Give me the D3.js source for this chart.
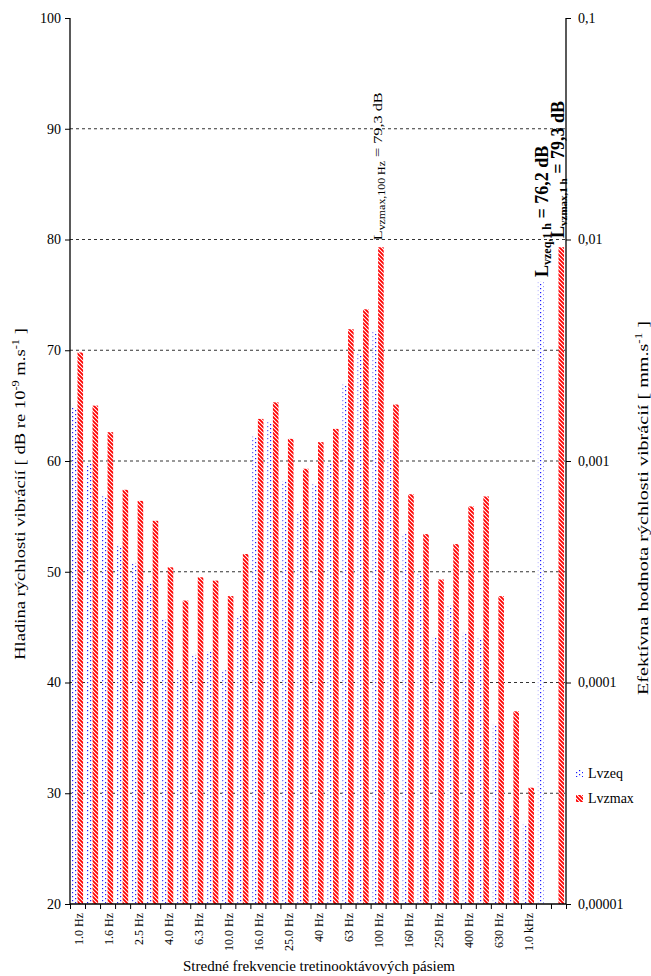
<!DOCTYPE html>
<html>
<head>
<meta charset="utf-8">
<script src="https://cdn.jsdelivr.net/npm/d3@7"></script>
<style>
body { margin: 0; background: #fff; }
text { font-family: "Liberation Serif", "Times New Roman", serif; fill: #000; }
</style>
</head>
<body>
<div id="chart"></div>
<script>
'use strict';

// third-octave bands, then two extra slots for the 1 h totals
var bandLabels = [
    "1.0 Hz","1.25 Hz","1.6 Hz","2.0 Hz","2.5 Hz","3.15 Hz","4.0 Hz","5.0 Hz",
    "6.3 Hz","8.0 Hz","10.0 Hz","12.5 Hz","16.0 Hz","20.0 Hz","25.0 Hz","31.5 Hz",
    "40 Hz","50 Hz","63 Hz","80 Hz","100 Hz","125 Hz","160 Hz","200 Hz",
    "250 Hz","315 Hz","400 Hz","500 Hz","630 Hz","800 Hz","1.0 kHz","",""
];

var lvzeq = [
    64.8, 59.8, 56.8, 52.3, 50.8, 48.9, 45.7, 41.1,
    42.5, 42.8, 41.1, 46.0, 62.2, 63.5, 58.2, 55.4,
    57.9, 59.8, 66.9, 69.7, 71.7, 61.1, 53.4, 49.9,
    44.1, 47.0, 44.5, 44.0, 36.2, 28.0, 27.2, 76.2, null
];

var lvzmax = [
    69.8, 65.0, 62.6, 57.4, 56.4, 54.6, 50.4, 47.4,
    49.5, 49.2, 47.8, 51.6, 63.8, 65.3, 62.0, 59.3,
    61.7, 62.9, 71.9, 73.7, 79.3, 65.1, 57.0, 53.4,
    49.3, 52.5, 55.9, 56.8, 47.8, 37.4, 30.5, null, 79.3
];

var seriesNames = ["Lvzeq", "Lvzmax"];
var leftTicks = [20, 30, 40, 50, 60, 70, 80, 90, 100];
var rightTicks = [0.00001, 0.0001, 0.001, 0.01, 0.1];
var gridValues = [30, 40, 50, 60, 70, 80, 90];

var W = 651, H = 976;
var L = 70, R = 566, T = 18, B = 904;

var svg = d3.select("#chart").append("svg")
    .attr("width", W).attr("height", H);

var defs = svg.append("defs");

var dots = defs.append("pattern").attr("id", "dots")
    .attr("patternUnits", "userSpaceOnUse").attr("width", 6).attr("height", 4);
dots.append("rect").attr("width", 6).attr("height", 4).attr("fill", "#fff");
dots.append("rect").attr("x", 0).attr("y", 0).attr("width", 1.2).attr("height", 1.2).attr("fill", "#1a1aff");
dots.append("rect").attr("x", 3).attr("y", 2).attr("width", 1.2).attr("height", 1.2).attr("fill", "#1a1aff");

var stripes = defs.append("pattern").attr("id", "stripes")
    .attr("patternUnits", "userSpaceOnUse").attr("width", 4).attr("height", 4);
stripes.append("rect").attr("width", 4).attr("height", 4).attr("fill", "#fff");
stripes.append("path").attr("d", "M-1,-1L5,5M-1,3L1,5M3,-1L5,1")
    .attr("stroke", "#ff0000").attr("stroke-width", 1.8);

var fills = { Lvzeq: "url(#dots)", Lvzmax: "url(#stripes)" };

var x = d3.scaleBand().domain(d3.range(bandLabels.length)).range([L, R]).padding(0);
var bw = x.bandwidth();
var xs = d3.scaleBand().domain(seriesNames).range([bw * 0.13, bw * 0.87]);
var xb = d3.scaleLinear().domain([0, bandLabels.length]).range([L, R]);
var y = d3.scaleLinear().domain([20, 100]).range([B, T]);
var yr = d3.scaleLog().domain([0.00001, 0.1]).range([B, T]);

// grid
svg.append("g").selectAll("line").data(gridValues).join("line")
    .attr("x1", L).attr("x2", R)
    .attr("y1", d => y(d)).attr("y2", d => y(d))
    .attr("stroke", "#333").attr("stroke-dasharray", "3,3");

// bars
var rows = [];
bandLabels.forEach(function(lab, i) {
    if (lvzeq[i] != null) rows.push({ i: i, s: "Lvzeq", v: lvzeq[i] });
    if (lvzmax[i] != null) rows.push({ i: i, s: "Lvzmax", v: lvzmax[i] });
});

svg.append("g").selectAll("rect").data(rows).join("rect")
    .attr("x", d => x(d.i) + xs(d.s))
    .attr("y", d => y(d.v))
    .attr("width", xs.bandwidth())
    .attr("height", d => y(20) - y(d.v))
    .attr("fill", d => fills[d.s]);

// axes
var fmtComma = d => String(d).replace(".", ",");

var gl = svg.append("g").attr("transform", `translate(${L},0)`)
    .call(d3.axisLeft(y).tickValues(leftTicks).tickSize(5).tickPadding(4).tickFormat(d3.format("d")));
var gr = svg.append("g").attr("transform", `translate(${R},0)`)
    .call(d3.axisRight(yr).tickValues(rightTicks).tickSize(5).tickPadding(7).tickFormat(fmtComma));
var gb = svg.append("g").attr("transform", `translate(0,${B})`)
    .call(d3.axisBottom(xb).tickValues(d3.range(bandLabels.length + 1)).tickSize(5).tickFormat(""));

[gl, gr, gb].forEach(function(g) {
    g.select(".domain").attr("stroke", "#000").attr("stroke-width", 1.3);
    g.selectAll(".tick line").attr("stroke", "#000");
    g.selectAll("text").style("font-family", "Liberation Serif").style("font-size", "14px").attr("fill", "#000");
});
gl.select(".domain").attr("d", `M0,${B}V${T}`);
gr.select(".domain").attr("d", `M0,${B}V${T}`);
gb.select(".domain").attr("d", `M${L},0H${R}`);

// band labels, every other one
svg.append("g").selectAll("text")
    .data(bandLabels.map((t, i) => ({ t: t, i: i })).filter(d => d.i % 2 === 0 && d.t !== ""))
    .join("text")
    .attr("transform", d => `translate(${x(d.i) + bw / 2 + 5},913) rotate(-90) scale(1,1.12)`)
    .attr("text-anchor", "end")
    .style("font-size", "12px")
    .text(d => d.t);

// axis titles
svg.append("text")
    .attr("x", 319).attr("y", 971)
    .attr("text-anchor", "middle")
    .style("font-size", "15px")
    .text("Stredné frekvencie tretinooktávových pásiem");

var lt = svg.append("text")
    .attr("transform", "translate(25,494) rotate(-90) scale(1.24,1)")
    .attr("text-anchor", "middle")
    .style("font-size", "15px");
lt.append("tspan").text("Hladina rýchlosti vibrácií [ dB re 10");
lt.append("tspan").attr("dy", -6).style("font-size", "10px").text("-9");
lt.append("tspan").attr("dy", 6).text(" m.s");
lt.append("tspan").attr("dy", -6).style("font-size", "10px").text("-1");
lt.append("tspan").attr("dy", 6).text(" ]");

var rt = svg.append("text")
    .attr("transform", "translate(648,508) rotate(-90) scale(1.3,1)")
    .attr("text-anchor", "middle")
    .style("font-size", "15.5px");
rt.append("tspan").text("Efektívna hodnota rýchlosti vibrácií [ mm.s");
rt.append("tspan").attr("dy", -6).style("font-size", "10px").text("-1");
rt.append("tspan").attr("dy", 6).text(" ]");

// annotations
function note(px, py, size, subSize, sub, rest, bold, stretch) {
    var t = svg.append("text")
        .attr("transform", `translate(${px},${py}) rotate(-90) scale(${stretch},1)`)
        .style("font-size", size + "px")
        .style("font-weight", bold ? "bold" : "normal");
    t.append("tspan").text("L");
    t.append("tspan").attr("dy", 3).style("font-size", subSize + "px").text(sub);
    t.append("tspan").attr("dy", -3).text(rest);
}
note(x(20) + bw / 2 + 4, y(lvzmax[20]) - 7, 13, 9.5, "vzmax,100 Hz", " = 79,3 dB", false, 1.25);
note(x(31) + bw / 2 + 5, 277, 18, 12, "vzeq,1 h", " = 76,2 dB", true, 1);
note(x(32) + bw / 2 + 6, 238, 18, 11, "vzmax,1 h", " = 79,3 dB", true, 1);

// legend
var lg = svg.append("g");
seriesNames.forEach(function(s, k) {
    var yy = 770 + k * 25;
    lg.append("rect").attr("x", 576).attr("y", yy).attr("width", 7).attr("height", 7)
        .attr("fill", fills[s]);
    lg.append("text").attr("x", 588).attr("y", yy + 8)
        .style("font-size", "14px").text(s);
});
</script>
</body>
</html>
